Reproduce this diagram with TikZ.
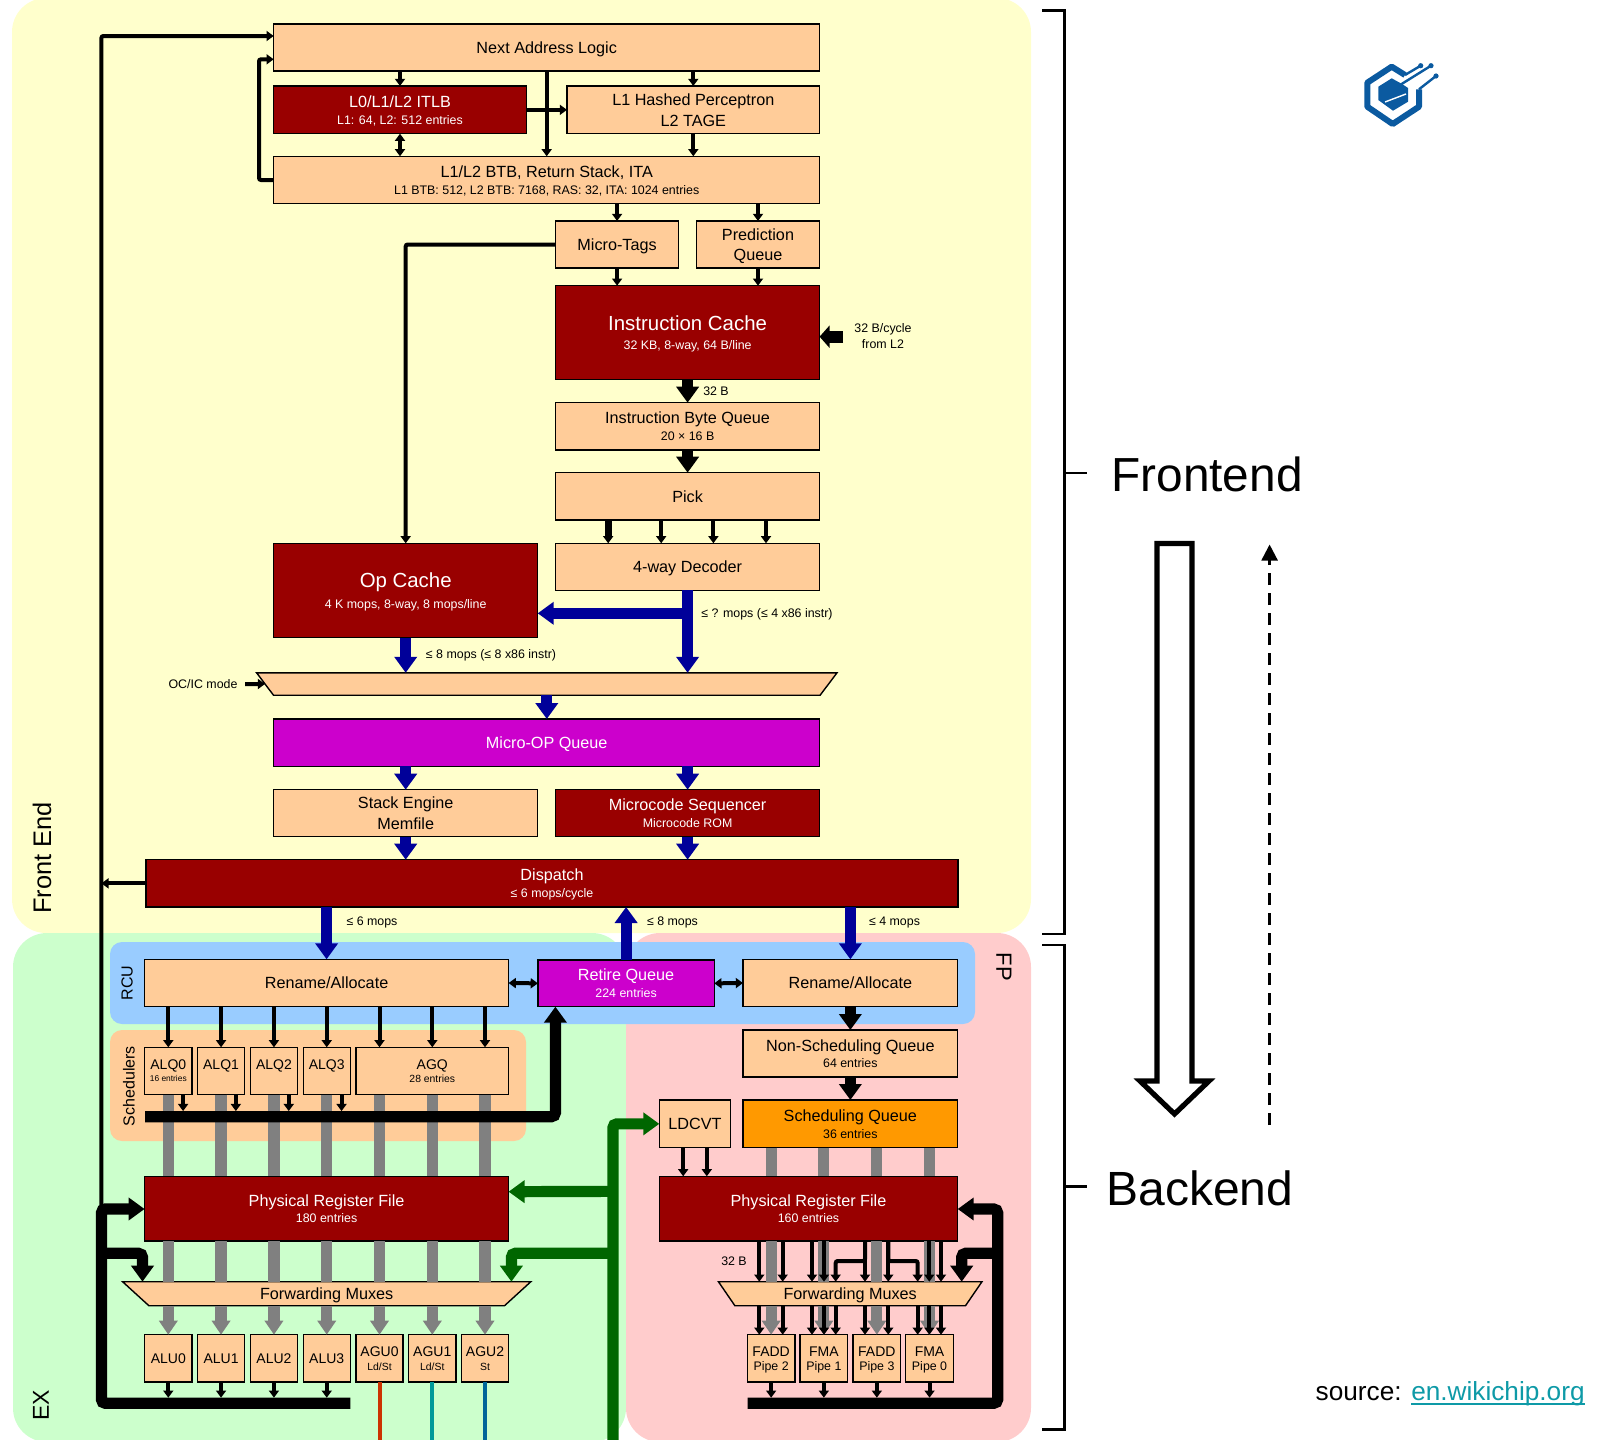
\documentclass[tikz,border=0pt]{standalone}
\usepackage{fontspec}
\setmainfont{Liberation Sans}
\usetikzlibrary{arrows.meta,shapes.geometric}
\definecolor{frontbg}{HTML}{FFFFCC}
\definecolor{exbg}{HTML}{CCFFCC}
\definecolor{fpbg}{HTML}{FFCCCC}
\definecolor{rcubg}{HTML}{99CCFF}
\definecolor{peach}{HTML}{FFCC99}
\definecolor{darkred}{HTML}{990000}
\definecolor{purp}{HTML}{CC00CC}
\definecolor{schedorange}{HTML}{FF9900}
\definecolor{flowblue}{HTML}{000099}
\definecolor{flowgreen}{HTML}{006600}
\definecolor{logoblue}{HTML}{0B5AA0}
\definecolor{linkteal}{HTML}{0E9AA7}
\definecolor{agured}{HTML}{CC3300}
\definecolor{aguteal}{HTML}{009999}
\definecolor{agublue}{HTML}{006699}
\newcommand{\subt}{\fontsize{6.2}{7}\selectfont}
\newcommand{\tinyt}{\fontsize{5.2}{6}\selectfont}
\newcommand{\linkul}[1]{\setbox0=\hbox{#1}\rlap{\rule[-2.4pt]{\wd0}{0.8pt}}#1}
\tikzset{
  wh/.style 2 args={anchor=north west, minimum width=#1*0.5pt, minimum height=#2*0.5pt},
  unit/.style={draw=black, line width=0.7pt, inner sep=0pt, outer sep=0pt, align=center, text=black,
    text depth=0pt, font=\fontsize{8.1}{10.3}\selectfont},
  peachbox/.style={unit, fill=peach},
  smallbox/.style={peachbox, font=\fontsize{7}{8}\selectfont},
  redbox/.style={unit, fill=darkred, text=white},
  purpbox/.style={unit, fill=purp, text=white},
  muxbox/.style={unit, fill=peach, shape=trapezium, shape border rotate=180, trapezium stretches=true},
  note/.style={font=\fontsize{6.2}{8}\selectfont, inner sep=0pt, align=center},
  region/.style={inner sep=0pt, font=\fontsize{#1}{#1}\selectfont},
  bigtip/.tip={Triangle[length=8pt, width=11pt]},
  thinflow/.style={draw=black, line width=2pt, -{Triangle[length=3.6pt, width=5pt]}},
  duplex/.style={draw=black, line width=2pt, {Triangle[length=3.6pt, width=5pt]}-{Triangle[length=3.6pt, width=5pt]}},
  blackflow/.style={draw=black, line width=5.6pt, -bigtip, rounded corners=2pt},
  blueflow/.style={draw=flowblue, line width=5.6pt, -bigtip},
  greenflow/.style={draw=flowgreen, line width=5.6pt, -bigtip, rounded corners=2pt},
  graybar/.style={draw=gray, line width=5.6pt},
  grayflow/.style={graybar, -{Triangle[length=7pt, width=9pt]}},
}
\begin{document}
\begin{tikzpicture}[x=0.5pt, y=-0.5pt]
  \useasboundingbox (0,0) rectangle (1608,1440);
  % regions
  \fill[frontbg, rounded corners=17pt] (12,-2) rectangle (1031,933);
  \fill[exbg, rounded corners=17pt] (13,933) rectangle (626,1442);
  \fill[fpbg, rounded corners=17pt] (626,933) rectangle (1031,1442);
  \fill[rcubg, rounded corners=6pt] (110,942) rectangle (975,1024);
  \fill[peach, rounded corners=6pt] (110,1030) rectangle (526,1141);
  \node[region=12.7, rotate=90] (frontlbl) at (42,858) {Front End};
  \node[region=11.5, rotate=90] (exlbl) at (41,1405) {EX};
  \node[region=8, rotate=90] (rculbl) at (127,983) {RCU};
  \node[region=8, rotate=90] (schedlbl) at (129,1086) {Schedulers};
  \node[region=11, rotate=-90] (fplbl) at (1004,967) {FP};

  % front end
  \node[peachbox, wh={546}{47}] (nal) at (273.7,24) {Next Address Logic};
  \node[redbox, wh={252.6}{47.7}] (itlb) at (273.7,86) {L0/L1/L2 ITLB\\[-2pt]\subt L1: 64, L2: 512 entries};
  \node[peachbox, wh={252.6}{47.7}] (tage) at (567,86) {L1 Hashed Perceptron\\L2 TAGE};
  \node[peachbox, wh={546}{47.4}] (btb) at (273.7,156.3) {L1/L2 BTB, Return Stack, ITA\\[-2pt]\subt L1 BTB: 512, L2 BTB: 7168, RAS: 32, ITA: 1024 entries};
  \node[peachbox, wh={123}{47}] (utags) at (555.6,221) {Micro-Tags};
  \node[peachbox, wh={123}{47}] (predq) at (696.5,221) {Prediction\\Queue};
  \node[redbox, wh={264}{94}] (icache) at (555.6,285.7) {\fontsize{10.2}{12}\selectfont Instruction Cache\\[-0.5pt]\subt 32 KB, 8-way, 64 B/line};
  \node[peachbox, wh={264}{47.3}] (ibq) at (555.6,402.7) {Instruction Byte Queue\\[-2pt]\subt 20 × 16 B};
  \node[peachbox, wh={264}{47.3}] (pick) at (555.6,472.7) {Pick};
  \node[peachbox, wh={264}{47}] (dec) at (555.6,543.3) {4-way Decoder};
  \node[redbox, wh={264}{94.4}] (opc) at (273.7,543.3) {\fontsize{10.2}{12}\selectfont Op Cache\\[0pt]\subt 4 K mops, 8-way, 8 mops/line};
  \node[muxbox, trapezium stretches body=true, minimum width=290.2pt, trapezium angle=53] (opmux) at (546.8,684) {\phantom{\rule{1pt}{11.2pt}}};
  \node[purpbox, wh={546}{47.3}] (uopq) at (273.7,719) {Micro-OP Queue};
  \node[peachbox, wh={264}{47}] (stack) at (273.7,789.7) {Stack Engine\\Memfile};
  \node[redbox, wh={264}{47}] (msrom) at (555.6,789.7) {Microcode Sequencer\\[-2pt]\subt Microcode ROM};
  \node[redbox, wh={812}{47.3}] (disp) at (146,859.7) {Dispatch\\[-2pt]\subt ≤ 6 mops/cycle};

  % integer and fp units
  \node[peachbox, wh={364}{47.4}] (renl) at (144.6,959.3) {Rename/Allocate};
  \node[purpbox, wh={176.4}{46.7}] (rob) at (537.9,960) {Retire Queue\\[-2pt]\subt 224 entries};
  \node[peachbox, wh={214.7}{47.4}] (renr) at (743,959.3) {Rename/Allocate};
  \node[smallbox, wh={47.4}{47.4}] (alq0) at (144.6,1047.3) {ALQ0\\[-2pt]\fontsize{4.2}{6}\selectfont 16 entries};
  \node[smallbox, wh={47.1}{47.4}] (alq1) at (197.5,1047.3) {ALQ1\\[-2pt]\fontsize{4.2}{6}\selectfont\phantom{0}};
  \node[smallbox, wh={47.1}{47.4}] (alq2) at (250.4,1047.3) {ALQ2\\[-2pt]\fontsize{4.2}{6}\selectfont\phantom{0}};
  \node[smallbox, wh={47.1}{47.4}] (alq3) at (303.2,1047.3) {ALQ3\\[-2pt]\fontsize{4.2}{6}\selectfont\phantom{0}};
  \node[smallbox, wh={152.6}{47.4}] (agq) at (356,1047.3) {AGQ\\[-1.5pt]\tinyt 28 entries};
  \node[redbox, wh={364}{64.7}] (prfl) at (144.6,1176.3) {Physical Register File\\[-2pt]\subt 180 entries};
  \node[muxbox, minimum width=205.3pt, minimum height=12pt, trapezium angle=50] (fmuxl) at (326.7,1293.7) {Forwarding Muxes};
  \node[smallbox, wh={47.4}{47.3}] (alu0) at (144.6,1334.7) {ALU0};
  \node[smallbox, wh={47.1}{47.3}] (alu1) at (197.5,1334.7) {ALU1};
  \node[smallbox, wh={47.1}{47.3}] (alu2) at (250.4,1334.7) {ALU2};
  \node[smallbox, wh={47.1}{47.3}] (alu3) at (303.2,1334.7) {ALU3};
  \node[smallbox, wh={47}{47.3}] (agu0) at (356,1334.7) {AGU0\\[-1pt]\tinyt Ld/St};
  \node[smallbox, wh={47.4}{47.3}] (agu1) at (408.6,1334.7) {AGU1\\[-1pt]\tinyt Ld/St};
  \node[smallbox, wh={47.2}{47.3}] (agu2) at (461.4,1334.7) {AGU2\\[-1pt]\tinyt St};
  \node[peachbox, wh={214.7}{47}] (nsq) at (743,1030) {Non-Scheduling Queue\\[-2pt]\subt 64 entries};
  \node[peachbox, wh={71.4}{47.7}] (ldcvt) at (659.3,1100) {LDCVT};
  \node[unit, fill=schedorange, wh={214.7}{47.7}] (schq) at (743,1100) {Scheduling Queue\\[-2pt]\subt 36 entries};
  \node[redbox, wh={298.4}{64.7}] (prfr) at (659.3,1176.3) {Physical Register File\\[-2pt]\subt 160 entries};
  \node[muxbox, minimum width=132.2pt, minimum height=12pt, trapezium angle=51] (fmuxr) at (850.2,1293.7) {Forwarding Muxes};
  \node[smallbox, wh={47.7}{47.3}] (fadd2) at (747.3,1334.7) {FADD\\[-1pt]\subt Pipe 2};
  \node[smallbox, wh={47.7}{47.3}] (fma1) at (800,1334.7) {FMA\\[-1pt]\subt Pipe 1};
  \node[smallbox, wh={47.7}{47.3}] (fadd3) at (853,1334.7) {FADD\\[-1pt]\subt Pipe 3};
  \node[smallbox, wh={47.7}{47.3}] (fma0) at (905.7,1334.7) {FMA\\[-1pt]\subt Pipe 0};

  % notes
  \node[note] (n32b) at (716,391.5) {32 B};
  \node[note] (nl2) at (883,336) {32 B/cycle\\from L2};
  \node[note] (nfour) at (767,614.5) {≤ ? mops (≤ 4 x86 instr)};
  \node[note] (neight) at (491,655) {≤ 8 mops (≤ 8 x86 instr)};
  \node[note] (nmode) at (203,684) {OC/IC mode};
  \node[note] (nsix) at (372,922.5) {≤ 6 mops};
  \node[note] (nret) at (672.5,922.5) {≤ 8 mops};
  \node[note] (nfp) at (894.5,922.5) {≤ 4 mops};
  \node[note] (nfp32) at (734,1261) {32 B};

  % free ends
  \coordinate (nalin) at (273.7,36);
  \coordinate (nalback) at (273.7,59.3);
  \coordinate (btbout) at (259,180);
  \coordinate (l2in) at (843,336.7);
  \coordinate (modein) at (245,684);
  \coordinate (schedbus) at (145,1116.7);
  \coordinate (robin) at (555.4,1006.7);
  \coordinate (gbus) at (612.9,1442);
  \coordinate (exbus) at (350.4,1403.3);
  \coordinate (exup) at (101.4,1209);
  \coordinate (exfwd) at (142.5,1253.3);
  \coordinate (fpbus) at (747.7,1403.3);
  \coordinate (fpup) at (997.7,1209);
  \coordinate (fpfwd) at (961.7,1253.3);
  \coordinate (gfwd) at (511.4,1253.3);

  % fetch connectors
  \draw[thinflow, rounded corners=1pt] (exup) -- (exup |- nalin) -- (nalin);
  \draw[thinflow, rounded corners=1pt] (btbout -| btb.west) -- (btbout) |- (nalback);
  \draw[thinflow] (disp.west) -- (disp.west -| exup);
  \draw[thinflow] (nal.south -| itlb.north) -- (itlb.north);
  \draw[thinflow] (nal.south -| tage.north) -- (tage.north);
  \draw[thinflow] (nal.south) -- (btb.north);
  \draw[thinflow] (itlb.east) -- (tage.west);
  \draw[duplex] (itlb.south) -- (btb.north -| itlb.south);
  \draw[thinflow] (tage.south) -- (btb.north -| tage.south);
  \draw[thinflow] (btb.south -| utags.north) -- (utags.north);
  \draw[thinflow] (btb.south -| predq.north) -- (predq.north);
  \draw[thinflow] (utags.south) -- (icache.north -| utags.south);
  \draw[thinflow] (predq.south) -- (icache.north -| predq.south);
  \draw[thinflow, rounded corners=1pt] (utags.west) -| (opc.north);
  \draw[draw=black, line width=6pt, -{Triangle[length=5pt, width=11pt]}] (l2in) -- (icache.east |- l2in);
  \draw[blackflow] (icache.south) -- (ibq.north);
  \draw[blackflow] (ibq.south) -- (pick.north);
  \draw[thinflow, line width=3.4pt] ([xshift=-39.7pt]pick.south) -- ([xshift=-39.7pt]dec.north);
  \foreach \s in {-13.2, 12.9, 39.2}
    \draw[thinflow] ([xshift=\s pt]pick.south) -- ([xshift=\s pt]dec.north);
  \draw[thinflow] (modein) -- (opmux.west);

  % uop path
  \draw[blueflow] (dec.south) -- (opmux.north -| dec.south);
  \draw[blueflow] (dec.south |- 0,613.3) -- (opc.east |- 0,613.3);
  \draw[blueflow] (opc.south) -- (opmux.north -| opc.south);
  \draw[blueflow] (opmux.south) -- (uopq.north -| opmux.south);
  \draw[blueflow] (uopq.south -| stack.north) -- (stack.north);
  \draw[blueflow] (uopq.south -| msrom.north) -- (msrom.north);
  \draw[blueflow] (stack.south) -- (disp.north -| stack.south);
  \draw[blueflow] (msrom.south) -- (disp.north -| msrom.south);
  \draw[blueflow] (disp.south -| renl.north) -- (renl.north);
  \draw[blueflow] (disp.south -| renr.north) -- (renr.north);
  \draw[blueflow] (rob.north) -- (disp.south -| rob.north);
  \draw[duplex] (renl.east) -- (rob.west);
  \draw[duplex] (rob.east) -- (renr.west);

  % integer side
  \foreach \u in {alu0,alu1,alu2,alu3,agu0,agu1,agu2} {
    \draw[graybar] (alq0.south -| \u.north) -- (prfl.north -| \u.north);
    \draw[graybar] (prfl.south -| \u.north) -- (fmuxl.north -| \u.north);
    \draw[grayflow] (fmuxl.south -| \u.north) -- (\u.north);
    \draw[thinflow] (renl.south -| \u.north) -- (alq0.north -| \u.north);
  }
  \foreach \q in {alq0,alq1,alq2,alq3}
    \draw[thinflow] ([xshift=7.4pt]\q.south) -- ([xshift=7.4pt,yshift=2.8pt]\q.south |- schedbus);
  \draw[blackflow, line width=5.6pt] (schedbus) -| (robin);
  \foreach \u in {alu0,alu1,alu2,alu3}
    \draw[thinflow] (\u.south) -- ([yshift=2.8pt]\u.south |- exbus);
  \draw[line width=2pt, draw=agured] (agu0.south) -- (agu0.south |- gbus);
  \draw[line width=2pt, draw=aguteal] (agu1.south) -- (agu1.south |- gbus);
  \draw[line width=2pt, draw=agublue] (agu2.south) -- (agu2.south |- gbus);
  \draw[blackflow] (exbus) -| (exup) -- (prfl.west |- exup);
  \draw[blackflow] (exfwd -| exup) -| (fmuxl.north -| exfwd);

  % load path
  \draw[greenflow] (gbus) |- (ldcvt.west);
  \draw[greenflow] (gbus |- prfl.east) ++(0,-17.3) -- (prfl.east |- 0,1191.7);
  \draw[greenflow] (gbus |- gfwd) -| (fmuxl.north -| gfwd);

  % fp side
  \draw[blackflow] (renr.south) -- (nsq.north);
  \draw[blackflow] (nsq.south) -- (schq.north);
  \draw[thinflow] ([xshift=-5.9pt]ldcvt.south) -- ([xshift=-5.9pt]ldcvt.south |- prfr.north);
  \draw[thinflow] ([xshift=5.9pt]ldcvt.south) -- ([xshift=5.9pt]ldcvt.south |- prfr.north);
  \foreach \u in {fadd2,fma1,fadd3,fma0} {
    \draw[graybar] (schq.south -| \u.north) -- (prfr.north -| \u.north);
    \draw[graybar] (prfr.south -| \u.north) -- (fmuxr.north -| \u.north);
    \draw[grayflow] (fmuxr.south -| \u.north) -- (\u.north);
    \draw[thinflow] (\u.south) -- ([yshift=2.8pt]\u.south |- fpbus);
  }
  \foreach \x in {759.3, 782.7, 812, 824, 865, 888.3, 929.3, 941}
    \draw[thinflow] (prfr.south -| \x,0) -- (fmuxr.north -| \x,0);
  \draw[thinflow, rounded corners=1pt] (865,1241) -- (865,1261) -| (fmuxr.north -| 835.7,0);
  \draw[thinflow, rounded corners=1pt] (888.3,1241) -- (888.3,1261) -| (fmuxr.north -| 917.7,0);
  \foreach \x in {759.3, 782.7, 812, 824, 835.7, 865, 888.3, 917.7, 929.3, 941}
    \draw[thinflow] (fmuxr.south -| \x,0) -- (fadd2.north -| \x,0);
  \draw[blackflow] (fpbus) -| (fpup) -- (prfr.east |- fpup);
  \draw[blackflow] (fpfwd -| fpup) -| (fmuxr.north -| fpfwd);

  % side annotations
  \draw[line width=1.2pt] (1042,10.3) -- (1064.6,10.3) -- (1064.6,934) -- (1042,934);
  \draw[line width=1.2pt] (1064.6,473) -- (1087,473);
  \draw[line width=1.2pt] (1042,945) -- (1064.6,945) -- (1064.6,1429.6) -- (1042,1429.6);
  \draw[line width=1.2pt] (1064.6,1186.5) -- (1087,1186.5);
  \node[region=23.9, anchor=west] (fronttxt) at (1111,474) {Frontend};
  \node[region=24, anchor=west] (backtxt) at (1106,1188.5) {Backend};
  \draw[line width=2.6pt, fill=white, line join=miter] (1157,543.5) -- (1192,543.5) -- (1192,1081) -- (1209,1081) -- (1174.5,1114) -- (1140,1081) -- (1157,1081) -- cycle;
  \coordinate (dashlow) at (1269.6,1125);
  \coordinate (dashhigh) at (1269.6,544.5);
  \draw[line width=1.2pt, dash pattern=on 6pt off 4pt, -{Triangle[length=8pt, width=8pt]}] (dashlow) -- (dashhigh);
  \node[region=13.1, anchor=base east] (source) at (1585,1400) {source: \textcolor{linkteal}{\linkul{en.wikichip.org}}};

  % logo
  \draw[logoblue, line width=3pt, line join=round] (1405,75) -- (1391.7,66.7) -- (1367.3,82.7) -- (1367.3,106.7) -- (1392.7,124) -- (1419,106.7) -- (1419,89.3);
  \fill[logoblue] (1391.7,78.3) -- (1378.3,86.7) -- (1378.3,100) -- (1393,110.7) -- (1408,101.7) -- (1408,88) -- (1402,84) -- cycle;
  \draw[white, line width=0.7pt] (1385,102) -- (1406,94);
  \fill[logoblue] (1420.7,65.7) circle (2.6) (1431,65.7) circle (2.6) (1436,76) circle (2.6);
  \draw[logoblue, line width=1.2pt] (1405,75) -- (1420.7,65.7) (1400,85) -- (1431,65.7) (1419,89.3) -- (1436,76);
\end{tikzpicture}
\end{document}
